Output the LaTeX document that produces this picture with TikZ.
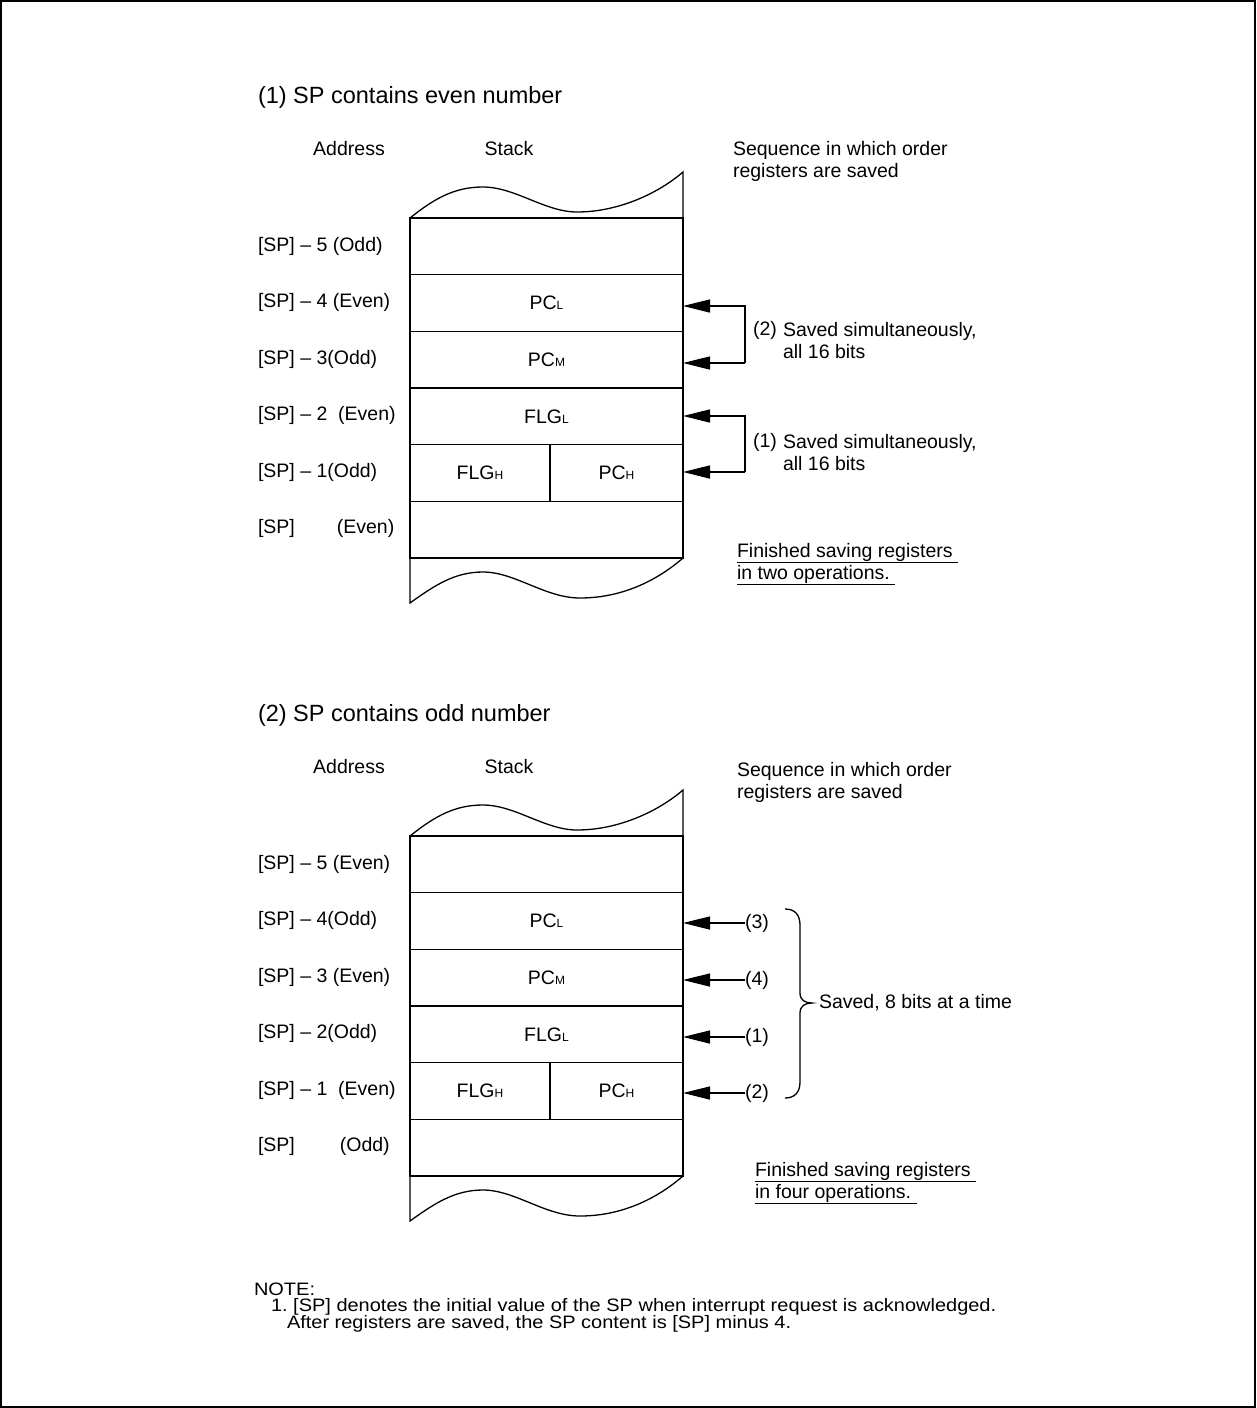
\documentclass[tikz,border=0pt]{standalone}
\usepackage{fontspec}
\setmainfont{Liberation Sans}
\newfontfamily\notefont[FakeStretch=1.11]{Liberation Sans}
\usetikzlibrary{arrows.meta}
\frenchspacing
\newcommand{\sbs}[1]{{\fontsize{12}{12}\selectfont #1}}
\newcommand{\stackdiag}[2]{%
 \begin{scope}[shift={(0,#2)}]
  \node[cell] (#1r5) at (546.5,246.33) {};
  \node[cell] (#1r4) at (546.5,303) {PC\sbs{L}};
  \node[cell] (#1r3) at (546.5,359.67) {PC\sbs{M}};
  \node[cell] (#1r2) at (546.5,416.33) {FLG\sbs{L}};
  \node[cell, minimum width=140pt] (#1r1a) at (480,473) {FLG\sbs{H}};
  \node[cell, minimum width=133pt] (#1r1b) at (616.5,473) {PC\sbs{H}};
  \node[cell] (#1r0) at (546.5,529.67) {};
  \draw[ln] (#1r5.north west) .. controls (435,198) and (455,187) .. (483,187)
     .. controls (515,187) and (545,212) .. (577,212)
     .. controls (620,212) and (660,192) .. (683,172) -- (#1r5.north east);
  \draw[ln] (#1r0.south east) .. controls (660,578) and (625,598) .. (580,598)
     .. controls (545,598) and (515,572) .. (483,572)
     .. controls (455,572) and (435,585) .. (410,603) -- (#1r0.south west);
  \node[body] (#1addr) at (349,149) {Address};
  \node[body] (#1stk) at (509,149) {Stack};
 \end{scope}}
\begin{document}
\begin{tikzpicture}[x=1pt,y=-1pt,
  every node/.style={inner sep=0pt, outer sep=0pt},
  body/.style={font=\fontsize{19.5}{22}\selectfont, align=left},
  lbl/.style={body, anchor=west},
  ttl/.style={font=\fontsize{23.5}{28}\selectfont, anchor=west},
  notef/.style={font=\notefont\fontsize{18}{17.5}\selectfont, anchor=west},
  ln/.style={line width=1.3pt},
  cell/.style={draw, line width=1.3pt, minimum height=56.67pt, minimum width=273pt,
    font=\fontsize{19.5}{22}\selectfont},
  arr/.style={line width=1.3pt, -{Triangle[length=27pt,width=13pt]}}
]
\useasboundingbox (0,0) rectangle (1256,1408);
\draw[line width=1.5pt] (1,1) rectangle (1255,1407);

% ---------- Diagram 1 ----------
\node[ttl] (t1) at (258,97) {(1) SP contains even number};
\stackdiag{a}{0}
\node[lbl] (aseq) at (733,161) {Sequence in which order\\registers are saved};
\node[lbl] (al5) at (258,246) {[SP] – 5 (Odd)};
\node[lbl] (al4) at (258,302) {[SP] – 4 (Even)};
\node[lbl] (al3) at (258,359) {[SP] – 3(Odd)};
\node[lbl] (al2) at (258,415) {[SP] – 2\ \ (Even)};
\node[lbl] (al1) at (258,472) {[SP] – 1(Odd)};
\node[lbl] (al0) at (258,528) {[SP]\hspace{42pt}(Even)};

\coordinate (a2t) at (745,306);
\coordinate (a2b) at (745,363);
\draw[arr] (a2b) -- (a2t) -- (a2t -| ar4.east);
\draw[arr] (a2b) -- (a2b -| ar3.east);
\node[lbl] (a2n) at (753,330) {(2)};
\node[lbl] (a2x) at (783,341) {Saved simultaneously,\\all 16 bits};

\coordinate (a1t) at (745,416);
\coordinate (a1b) at (745,472);
\draw[arr] (a1b) -- (a1t) -- (a1t -| ar2.east);
\draw[arr] (a1b) -- (a1b -| ar1b.east);
\node[lbl] (a1n) at (753,442) {(1)};
\node[lbl] (a1x) at (783,452.5) {Saved simultaneously,\\all 16 bits};

\node[lbl] (afin) at (737,564) {\underline{Finished saving registers\ }\\\underline{in two operations.\ }};

% ---------- Diagram 2 ----------
\node[ttl] (t2) at (258,715) {(2) SP contains odd number};
\stackdiag{b}{618}
\node[lbl] (bseq) at (737,782) {Sequence in which order\\registers are saved};
\node[lbl] (bl5) at (258,864) {[SP] – 5 (Even)};
\node[lbl] (bl4) at (258,920) {[SP] – 4(Odd)};
\node[lbl] (bl3) at (258,977) {[SP] – 3 (Even)};
\node[lbl] (bl2) at (258,1033) {[SP] – 2(Odd)};
\node[lbl] (bl1) at (258,1090) {[SP] – 1\ \ (Even)};
\node[lbl] (bl0) at (258,1146) {[SP]\hspace{45pt}(Odd)};

\node[lbl] (b3) at (745,923) {(3)};
\node[lbl] (b4) at (745,980) {(4)};
\node[lbl] (b1) at (745,1037) {(1)};
\node[lbl] (b2) at (745,1093) {(2)};
\draw[arr] (b3.west) -- (b3.west -| br4.east);
\draw[arr] (b4.west) -- (b4.west -| br3.east);
\draw[arr] (b1.west) -- (b1.west -| br2.east);
\draw[arr] (b2.west) -- (b2.west -| br1b.east);

\draw[ln] (785,909) .. controls (795,909) and (800,915) .. (800,925) -- (800,993)
  .. controls (800,1000) and (805,1003) .. (812,1003)
  .. controls (805,1003) and (800,1006) .. (800,1013) -- (800,1082)
  .. controls (800,1092) and (795,1098) .. (785,1098);
\node[lbl] (bsav) at (819,1003) {Saved, 8 bits at a time};

\node[lbl] (bfin) at (755,1183) {\underline{Finished saving registers\ }\\\underline{in four operations.\ }};

% ---------- Note ----------
\node[notef] (n0) at (254,1289) {NOTE:};
\node[notef] (n1) at (271,1306.5) {1. [SP] denotes the initial value of the SP when interrupt request is acknowledged.};
\node[notef] (n2) at (287,1324) {After registers are saved, the SP content is [SP] minus 4.};
\end{tikzpicture}
\end{document}
